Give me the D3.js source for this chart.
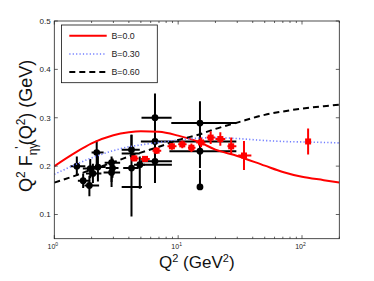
<!DOCTYPE html>
<html>
<head>
<meta charset="utf-8">
<script src="https://cdn.jsdelivr.net/npm/d3@7"></script>
<style>
  body { margin: 0; background: #fff; }
  svg { display: block; font-family: "Liberation Sans", Arial, sans-serif; }
</style>
</head>
<body>
<div id="graph"></div>
<script>
// theory curves at a few Q^2 values
var curveQ = [1, 1.5, 2, 3, 4, 5, 7, 10, 15, 20, 30, 50, 70, 100, 150, 200];
var curveB00 = [0.200, 0.229, 0.247, 0.264, 0.270, 0.272, 0.271, 0.263, 0.249, 0.234, 0.221, 0.201, 0.188, 0.178, 0.171, 0.166];
var curveB30 = [0.183, 0.204, 0.217, 0.232, 0.240, 0.244, 0.249, 0.254, 0.258, 0.259, 0.257, 0.253, 0.251, 0.250, 0.249, 0.248];
var curveB60 = [0.166, 0.181, 0.193, 0.208, 0.220, 0.228, 0.240, 0.254, 0.266, 0.277, 0.290, 0.306, 0.313, 0.319, 0.324, 0.327];

// red data points
var redQ   = [4.43, 5.4, 6.7, 8.9, 10.8, 12.8, 15.3, 18.3, 21.9, 26.8, 34, 112];
var redV   = [0.216, 0.215, 0.232, 0.241, 0.245, 0.238, 0.249, 0.259, 0.256, 0.241, 0.222, 0.251];
var redErr = [0.006, 0.006, 0.007, 0.007, 0.008, 0.009, 0.010, 0.013, 0.014, 0.018, 0.030, 0.027];
var redQlo = [4.1, 5.0, 6.2, 8.2, 10.0, 12.0, 14.0, 17.0, 20.0, 25.0, 30.5, 112];
var redQhi = [4.8, 5.9, 7.3, 9.7, 11.7, 13.8, 16.6, 19.8, 24.0, 29.5, 39.0, 112];

// black data points
var blkQ     = [1.52, 1.71, 1.92, 1.95, 2.05, 2.2, 2.25, 2.9, 2.9, 2.95, 4.2, 4.2, 4.2, 4.2, 4.9, 6.5, 6.5, 6.5, 6.5, 15, 15, 15];
var blkV     = [0.200, 0.170, 0.160, 0.195, 0.185, 0.228, 0.198, 0.207, 0.187, 0.196, 0.234, 0.226, 0.196, 0.157, 0.203, 0.300, 0.251, 0.210, 0.203, 0.289, 0.231, 0.157];
var blkQlo   = [1.35, 1.55, 1.75, 1.70, 1.80, 2.0, 1.95, 2.55, 2.5, 2.6, 3.5, 3.5, 3.6, 3.5, 4.4, 5.06, 5.0, 5.0, 4.9, 8.8, 8.5, 15];
var blkQhi   = [1.78, 1.95, 2.3, 2.25, 2.4, 2.5, 2.6, 3.4, 3.4, 3.3, 4.9, 4.9, 4.8, 5.1, 5.4, 8.85, 29.5, 8.9, 8.9, 29.5, 29.5, 15];
var blkErrLo = [0.020, 0.015, 0.022, 0.020, 0.020, 0.035, 0.030, 0.050, 0.020, 0.020, 0.015, 0.010, 0.100, 0, 0.050, 0.055, 0.010, 0.045, 0.010, 0.040, 0.035, 0];
var blkErrHi = [0.020, 0.015, 0.020, 0.020, 0.020, 0.025, 0.030, 0.013, 0.020, 0.020, 0.031, 0.010, 0.069, 0, 0.017, 0.050, 0.010, 0.035, 0.010, 0.045, 0.035, 0.035];
var blkMark  = [1, 1, 1, 1, 1, 1, 1, 1, 1, 1, 1, 0, 1, 0, 1, 1, 1, 1, 0, 1, 1, 1];

var legendNames = ["B=0.0", "B=0.30", "B=0.60"];
var yTicks = [0.1, 0.2, 0.3, 0.4, 0.5];
var xTicks = [1, 10, 100];

var W = 374, H = 281;
var pLeft = 54.3, pRight = 339.3, pTop = 21, pBottom = 238.7;

var svg = d3.select("#graph").append("svg")
    .attr("width", W)
    .attr("height", H);

var x = d3.scaleLog().domain([1, 200]).range([pLeft, pRight]);
var y = d3.scaleLinear().domain([0.05, 0.5]).range([pBottom, pTop]);

// clip to plot area
svg.append("clipPath").attr("id", "clip")
    .append("rect").attr("x", pLeft).attr("y", pTop)
    .attr("width", pRight - pLeft).attr("height", pBottom - pTop);

var plot = svg.append("g").attr("clip-path", "url(#clip)");

// curves
var line = d3.line()
    .x((d, i) => x(curveQ[i]))
    .y(d => y(d))
    .curve(d3.curveMonotoneX);

var styles = [
    { data: curveB00, color: "#ff0000", width: 2, dash: null },
    { data: curveB30, color: "#6f7cff", width: 1.6, dash: "1.2,2.2" },
    { data: curveB60, color: "#000000", width: 2, dash: "6,4" }
];

// black data
var blk = blkQ.map((q, i) => ({ q: q, v: blkV[i], lo: blkQlo[i], hi: blkQhi[i], el: blkErrLo[i], eh: blkErrHi[i], m: blkMark[i] }));
var gb = plot.append("g");
gb.selectAll("line.h").data(blk).enter().append("line")
    .attr("x1", d => x(d.lo)).attr("x2", d => x(d.hi))
    .attr("y1", d => y(d.v)).attr("y2", d => y(d.v))
    .attr("stroke", "#000").attr("stroke-width", 2);
gb.selectAll("line.v").data(blk).enter().append("line")
    .attr("x1", d => x(d.q)).attr("x2", d => x(d.q))
    .attr("y1", d => y(d.v - d.el)).attr("y2", d => y(d.v + d.eh))
    .attr("stroke", "#000").attr("stroke-width", 2);
gb.selectAll("circle").data(blk.filter(d => d.m)).enter().append("circle")
    .attr("cx", d => x(d.q)).attr("cy", d => y(d.v))
    .attr("r", 3.4).attr("fill", "#000");

styles.forEach(function (s) {
    plot.append("path")
        .datum(s.data)
        .attr("d", line)
        .attr("fill", "none")
        .attr("stroke", s.color)
        .attr("stroke-width", s.width)
        .attr("stroke-dasharray", s.dash);
});

// red data
var red = redQ.map((q, i) => ({ q: q, v: redV[i], e: redErr[i], lo: redQlo[i], hi: redQhi[i] }));
var gr = plot.append("g");
gr.selectAll("line.h").data(red).enter().append("line")
    .attr("x1", d => x(d.lo)).attr("x2", d => x(d.hi))
    .attr("y1", d => y(d.v)).attr("y2", d => y(d.v))
    .attr("stroke", "#ff0000").attr("stroke-width", 2);
gr.selectAll("line.v").data(red).enter().append("line")
    .attr("x1", d => x(d.q)).attr("x2", d => x(d.q))
    .attr("y1", d => y(d.v - d.e)).attr("y2", d => y(d.v + d.e))
    .attr("stroke", "#ff0000").attr("stroke-width", 2);
gr.selectAll("rect").data(red).enter().append("rect")
    .attr("x", d => x(d.q) - 3).attr("y", d => y(d.v) - 3)
    .attr("width", 6).attr("height", 6)
    .attr("fill", "#ff0000");

// axes frame
svg.append("rect")
    .attr("x", pLeft).attr("y", pTop)
    .attr("width", pRight - pLeft).attr("height", pBottom - pTop)
    .attr("fill", "none").attr("stroke", "#222").attr("stroke-width", 0.8);

// ticks, inward like matlab
var minor = [];
[1, 10, 100].forEach(function (dec) {
    for (var k = 2; k <= 9; k++) { if (dec * k <= 200) minor.push(dec * k); }
});
var tk = svg.append("g").attr("stroke", "#222").attr("stroke-width", 0.7);
xTicks.concat(minor).forEach(function (t) {
    var len = xTicks.indexOf(t) >= 0 ? 3.5 : 2;
    tk.append("line").attr("x1", x(t)).attr("x2", x(t)).attr("y1", pBottom).attr("y2", pBottom - len);
    tk.append("line").attr("x1", x(t)).attr("x2", x(t)).attr("y1", pTop).attr("y2", pTop + len);
});
yTicks.forEach(function (t) {
    tk.append("line").attr("x1", pLeft).attr("x2", pLeft + 3.5).attr("y1", y(t)).attr("y2", y(t));
    tk.append("line").attr("x1", pRight).attr("x2", pRight - 3.5).attr("y1", y(t)).attr("y2", y(t));
});

// tick labels
svg.append("g").selectAll("text").data(yTicks).enter().append("text")
    .attr("x", pLeft - 3.6).attr("y", d => y(d) + 2.8)
    .attr("text-anchor", "end")
    .attr("font-size", 8).attr("fill", "#222")
    .text(d => d3.format(".1f")(d));

var xl = svg.append("g").selectAll("text").data(xTicks).enter().append("text")
    .attr("x", d => x(d) - 1.5).attr("y", pBottom + 10.5)
    .attr("text-anchor", "middle")
    .attr("font-size", 7).attr("fill", "#222");
xl.append("tspan").text("10");
xl.append("tspan").attr("dy", -3).attr("font-size", 5).text(d => Math.round(Math.log10(d)));

// axis titles
var xt = svg.append("text")
    .attr("x", (pLeft + pRight) / 2).attr("y", 267.5)
    .attr("text-anchor", "middle").attr("font-size", 17).attr("fill", "#111");
xt.append("tspan").text("Q");
xt.append("tspan").attr("dy", -6).attr("font-size", 11).text("2");
xt.append("tspan").attr("dy", 6).text(" (GeV");
xt.append("tspan").attr("dy", -6).attr("font-size", 11).text("2");
xt.append("tspan").attr("dy", 6).text(")");

var yt = svg.append("text")
    .attr("transform", "translate(32," + ((pTop + pBottom) / 2 - 4) + ") rotate(-90)")
    .attr("text-anchor", "middle").attr("font-size", 18).attr("fill", "#111");
yt.append("tspan").text("Q");
yt.append("tspan").attr("dy", -7).attr("font-size", 12).text("2");
yt.append("tspan").attr("dy", 7).text(" F");
yt.append("tspan").attr("dy", 5).attr("font-size", 12).text("ηγ");
yt.append("tspan").attr("dy", -13).attr("dx", -6).attr("font-size", 12).text("'");
yt.append("tspan").attr("dy", 8).attr("dx", 1).text("(Q");
yt.append("tspan").attr("dy", -7).attr("font-size", 12).text("2");
yt.append("tspan").attr("dy", 7).text(") (GeV)");

// legend
var lg = svg.append("g");
lg.append("rect")
    .attr("x", 61.5).attr("y", 25).attr("width", 95.8).attr("height", 57.7)
    .attr("fill", "#fff").attr("stroke", "#111").attr("stroke-width", 0.8);
var legY = [35.7, 54, 72];
styles.forEach(function (s, i) {
    lg.append("line")
        .attr("x1", 69.3).attr("x2", 106.7).attr("y1", legY[i]).attr("y2", legY[i])
        .attr("stroke", s.color).attr("stroke-width", s.width)
        .attr("stroke-dasharray", s.dash);
    lg.append("text")
        .attr("x", 111.5).attr("y", legY[i] + 3.1)
        .attr("font-size", 8.8).attr("fill", "#222")
        .text(legendNames[i]);
});
</script>
</body>
</html>
